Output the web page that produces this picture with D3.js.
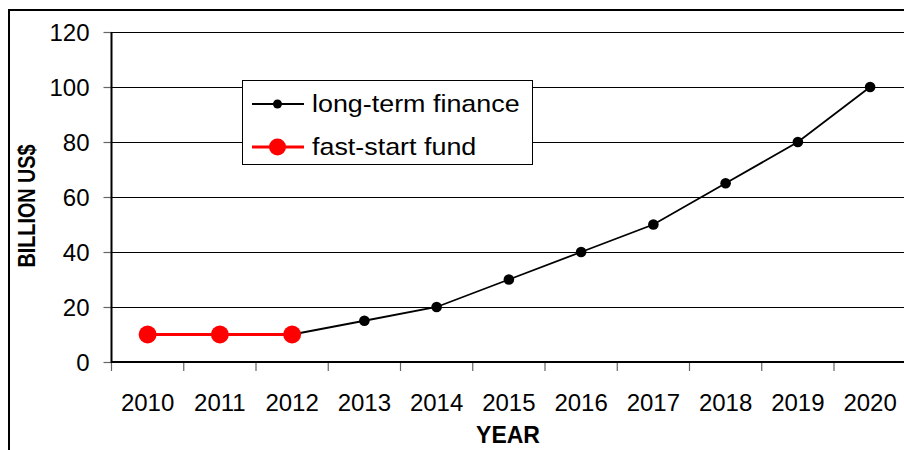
<!DOCTYPE html>
<html>
<head>
<meta charset="utf-8">
<script src="https://cdn.jsdelivr.net/npm/d3@7"></script>
<style>
  html, body { margin: 0; padding: 0; background: #fff; }
  svg { display: block; font-family: Arial, "Liberation Sans", sans-serif; }
</style>
</head>
<body>
<svg id="chart" width="904" height="450"></svg>
<script>
// Climate finance commitments, billion US$ per year
const years = [2010, 2011, 2012, 2013, 2014, 2015, 2016, 2017, 2018, 2019, 2020];
const longTermYears = [2012, 2013, 2014, 2015, 2016, 2017, 2018, 2019, 2020];
const longTermValues = [10, 15, 20, 30, 40, 50, 65, 80, 100];
const fastStartYears = [2010, 2011, 2012];
const fastStartValues = [10, 10, 10];
const yTicks = [0, 20, 40, 60, 80, 100, 120];

const svg = d3.select("#chart");
const W = 904, H = 450;
const plot = { left: 111.5, top: 32, bottom: 362, step: 72.25 };
const plotRight = plot.left + plot.step * years.length;

// outer chart frame
svg.append("path")
  .attr("d", `M9,${H + 2} V10 H${W + 2}`)
  .attr("fill", "none").attr("stroke", "#000").attr("stroke-width", 2);

const x = d3.scaleBand().domain(years).range([plot.left, plotRight]);
const y = d3.scaleLinear().domain([0, 120]).range([plot.bottom, plot.top]);

// horizontal gridlines
svg.append("g").selectAll("line").data(yTicks.filter(d => d > 0)).join("line")
  .attr("x1", plot.left).attr("x2", plotRight)
  .attr("y1", d => Math.round(y(d)) + 0.5).attr("y2", d => Math.round(y(d)) + 0.5)
  .attr("stroke", "#000").attr("stroke-width", 1);

// y axis
const yAxis = svg.append("g")
  .attr("transform", `translate(${plot.left},0)`)
  .call(d3.axisLeft(y).tickValues(yTicks).tickSize(8).tickPadding(14).tickFormat(d3.format("d")));
yAxis.select(".domain").remove();
yAxis.selectAll(".tick line").attr("stroke", "#666").attr("stroke-width", 1.2);
yAxis.selectAll(".tick text")
  .attr("fill", "#000").attr("dy", "0.36em")
  .style("font-size", "24px").style("font-family", "Arial, 'Liberation Sans', sans-serif");

// x axis (ticks at category boundaries)
const xBounds = d3.range(years.length + 1).map(i => plot.left + i * x.step());
svg.append("g").selectAll("line").data(xBounds).join("line")
  .attr("x1", d => d).attr("x2", d => d)
  .attr("y1", plot.bottom).attr("y2", plot.bottom + 9)
  .attr("stroke", "#666").attr("stroke-width", 1.2);
svg.append("g").selectAll("text").data(years).join("text")
  .attr("x", d => x(d) + x.bandwidth() / 2).attr("y", 411)
  .attr("text-anchor", "middle").style("font-size", "24px").text(d => d);

// axis lines
svg.append("line").attr("x1", plot.left).attr("x2", plot.left)
  .attr("y1", plot.top).attr("y2", plot.bottom + 1)
  .attr("stroke", "#000").attr("stroke-width", 2);
svg.append("line").attr("x1", plot.left).attr("x2", plotRight)
  .attr("y1", plot.bottom).attr("y2", plot.bottom)
  .attr("stroke", "#000").attr("stroke-width", 2);

// axis titles
svg.append("text")
  .attr("transform", "translate(35,206) rotate(-90) scale(0.86,1)")
  .attr("text-anchor", "middle").style("font-size", "23px").style("font-weight", "bold")
  .text("BILLION US$");
svg.append("text")
  .attr("x", 508).attr("y", 443)
  .attr("text-anchor", "middle").style("font-size", "23px").style("font-weight", "bold")
  .text("YEAR");

const cx = d => x(d) + x.bandwidth() / 2;

// long-term finance series
const ltData = longTermYears.map((yr, i) => ({ yr, v: longTermValues[i] }));
svg.append("path").datum(ltData)
  .attr("d", d3.line().x(d => cx(d.yr)).y(d => y(d.v)))
  .attr("fill", "none").attr("stroke", "#000").attr("stroke-width", 1.8);
svg.append("g").selectAll("circle").data(ltData).join("circle")
  .attr("cx", d => cx(d.yr)).attr("cy", d => y(d.v)).attr("r", 5.3).attr("fill", "#000");

// fast-start fund series
const fsData = fastStartYears.map((yr, i) => ({ yr, v: fastStartValues[i] }));
svg.append("path").datum(fsData)
  .attr("d", d3.line().x(d => cx(d.yr)).y(d => y(d.v)))
  .attr("fill", "none").attr("stroke", "#ff0000").attr("stroke-width", 3);
svg.append("g").selectAll("circle").data(fsData).join("circle")
  .attr("cx", d => cx(d.yr)).attr("cy", d => y(d.v)).attr("r", 9).attr("fill", "#ff0000");

// legend
const lg = svg.append("g");
lg.append("rect").attr("x", 242.5).attr("y", 80.5).attr("width", 290).attr("height", 84)
  .attr("fill", "#fff").attr("stroke", "#000").attr("stroke-width", 1);
const items = [
  { label: "long-term finance", color: "#000", w: 1.8, r: 4.5, cy: 104 },
  { label: "fast-start fund", color: "#ff0000", w: 3, r: 8.5, cy: 147 }
];
items.forEach(it => {
  lg.append("line").attr("x1", 252).attr("x2", 304).attr("y1", it.cy).attr("y2", it.cy)
    .attr("stroke", it.color).attr("stroke-width", it.w);
  lg.append("circle").attr("cx", 277.5).attr("cy", it.cy).attr("r", it.r).attr("fill", it.color);
  lg.append("text").attr("transform", `translate(312,${it.cy + 8}) scale(1.12,1)`)
    .style("font-size", "24px").text(it.label);
});
</script>
</body>
</html>
